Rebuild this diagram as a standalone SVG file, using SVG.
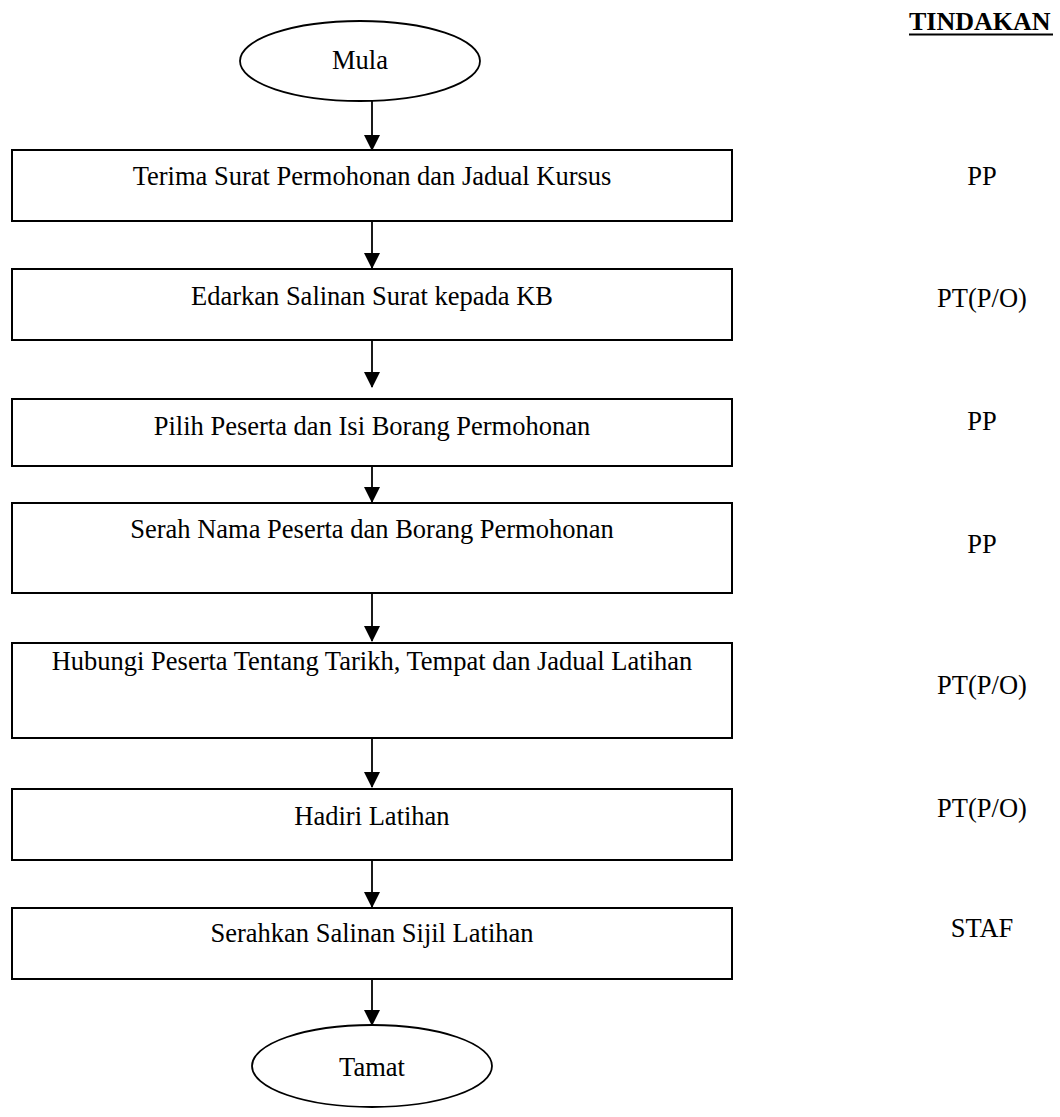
<svg xmlns="http://www.w3.org/2000/svg" width="1060" height="1117" viewBox="0 0 1060 1117">
<style>
.box{fill:#fff;stroke:#000;stroke-width:2}
.term{fill:#fff;stroke:#000;stroke-width:1.8}
.t{font-family:"Liberation Serif","Times New Roman",serif;font-size:26.5px;fill:#000;text-anchor:middle}
.hd{font-family:"Liberation Serif","Times New Roman",serif;font-size:26px;font-weight:bold;fill:#000}
.c{stroke:#000;stroke-width:1.8;fill:none;marker-end:url(#ah)}
</style>
<defs>
<marker id="ah" markerUnits="userSpaceOnUse" markerWidth="18" markerHeight="16" refX="15" refY="8" orient="auto">
<path d="M0,0 L16,8 L0,16 Z" fill="#000"/>
</marker>
</defs>
<rect width="1060" height="1117" fill="#fff"/>
<g id="header">
<text class="hd" x="909" y="30">TINDAKAN</text>
<line x1="909" y1="34.5" x2="1053" y2="34.5" stroke="#000" stroke-width="2"/>
</g>
<g id="connectors">
<line class="c" x1="372" y1="101" x2="372" y2="150"/>
<line class="c" x1="372" y1="221" x2="372" y2="268"/>
<line class="c" x1="372" y1="340" x2="372" y2="387"/>
<line class="c" x1="372" y1="455" x2="372" y2="502"/>
<line class="c" x1="372" y1="593" x2="372" y2="641"/>
<line class="c" x1="372" y1="738" x2="372" y2="787"/>
<line class="c" x1="372" y1="860" x2="372" y2="907"/>
<line class="c" x1="372" y1="979" x2="372" y2="1025"/>
</g>
<g id="mula">
<ellipse class="term" cx="360" cy="61" rx="120" ry="40"/>
<text class="t" x="360" y="69">Mula</text>
</g>
<g id="step1">
<rect class="box" x="12" y="150" width="720" height="71"/>
<text class="t" x="372" y="185">Terima Surat Permohonan dan Jadual Kursus</text>
<text class="t" x="982" y="185">PP</text>
</g>
<g id="step2">
<rect class="box" x="12" y="269" width="720" height="71"/>
<text class="t" x="372" y="305">Edarkan Salinan Surat kepada KB</text>
<text class="t" x="982" y="307">PT(P/O)</text>
</g>
<g id="step3">
<rect class="box" x="12" y="399" width="720" height="67"/>
<text class="t" x="372" y="435">Pilih Peserta dan Isi Borang Permohonan</text>
<text class="t" x="982" y="430">PP</text>
</g>
<g id="step4">
<rect class="box" x="12" y="503" width="720" height="90"/>
<text class="t" x="372" y="538">Serah Nama Peserta dan Borang Permohonan</text>
<text class="t" x="982" y="553">PP</text>
</g>
<g id="step5">
<rect class="box" x="12" y="643" width="720" height="95"/>
<text class="t" x="372" y="670">Hubungi Peserta Tentang Tarikh, Tempat dan Jadual Latihan</text>
<text class="t" x="982" y="694">PT(P/O)</text>
</g>
<g id="step6">
<rect class="box" x="12" y="789" width="720" height="71"/>
<text class="t" x="372" y="825">Hadiri Latihan</text>
<text class="t" x="982" y="817">PT(P/O)</text>
</g>
<g id="step7">
<rect class="box" x="12" y="908" width="720" height="71"/>
<text class="t" x="372" y="942">Serahkan Salinan Sijil Latihan</text>
<text class="t" x="982" y="937">STAF</text>
</g>
<g id="tamat">
<ellipse class="term" cx="372" cy="1066" rx="120" ry="41"/>
<text class="t" x="372" y="1076">Tamat</text>
</g>
</svg>
